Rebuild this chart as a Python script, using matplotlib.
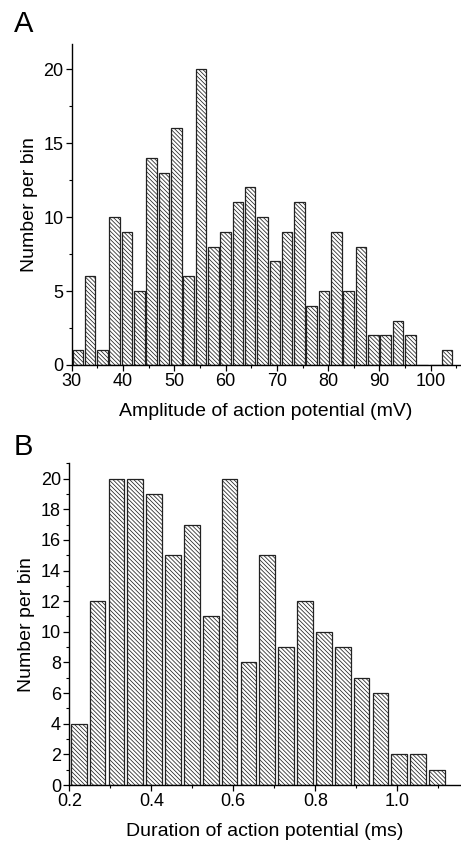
import matplotlib
matplotlib.use("Agg")
import matplotlib.pyplot as plt
import numpy as np
from matplotlib.ticker import MultipleLocator

plt.rcParams['font.family'] = ['Liberation Sans', 'DejaVu Sans']
plt.rcParams['hatch.linewidth'] = 0.55
plt.rcParams['hatch.color'] = '#2a2a2a'

# Panel A: amplitude histogram
amp_start = 30.0
amp_binwidth = 2.4
amp_counts = [1, 6, 1, 10, 9, 5, 14, 13, 16, 6, 20, 8, 9, 11, 12, 10, 7, 9, 11,
              4, 5, 9, 5, 8, 2, 2, 3, 2, 0, 0, 1]
amp_xticks = [30, 40, 50, 60, 70, 80, 90, 100]
amp_yticks = [0, 5, 10, 15, 20]

# Panel B: duration histogram
dur_start = 0.2
dur_binwidth = 0.046
dur_counts = [4, 12, 20, 20, 19, 15, 17, 11, 20, 8, 15, 9, 12, 10, 9, 7, 6, 2, 2, 1]
dur_xticks = [0.2, 0.4, 0.6, 0.8, 1.0]
dur_yticks = [0, 2, 4, 6, 8, 10, 12, 14, 16, 18, 20]

W, H = 461, 841
fig = plt.figure(figsize=(W / 100, H / 100), dpi=100)

def style(ax):
    for s in ['top', 'right']:
        ax.spines[s].set_visible(False)
    ax.spines['left'].set_linewidth(1.0)
    ax.spines['bottom'].set_linewidth(1.0)
    ax.tick_params(which='major', direction='out', length=4, width=0.9,
                   labelsize=13, pad=2)
    ax.tick_params(which='minor', direction='out', length=2.5, width=0.8)

HATCH = '\\' * 8

# ---- Panel A
axA = fig.add_axes([71.7 / W, 1 - 365 / H, (460 - 71.7) / W, (365 - 44) / H])
nA = len(amp_counts)
edgesA = amp_start + amp_binwidth * np.arange(nA)
axA.bar(edgesA + amp_binwidth / 2, amp_counts, width=amp_binwidth * 0.86,
        facecolor='white', edgecolor='#222222', linewidth=0.9,
        hatch=HATCH, zorder=2)
axA.set_xlim(30, 105.7)
axA.set_ylim(0, 21.7)
axA.set_xticks(amp_xticks)
axA.set_yticks(amp_yticks)
axA.xaxis.set_minor_locator(MultipleLocator(5))
axA.yaxis.set_minor_locator(MultipleLocator(2.5))
style(axA)
axA.set_xlabel('Amplitude of action potential (mV)', fontsize=14, labelpad=9)
axA.set_ylabel('Number per bin', fontsize=14, labelpad=4)

# ---- Panel B
axB = fig.add_axes([69.3 / W, 1 - 785 / H, (460 - 69.3) / W, (785 - 463.3) / H])
nB = len(dur_counts)
edgesB = dur_start + dur_binwidth * np.arange(nB)
axB.bar(edgesB + dur_binwidth / 2, dur_counts, width=dur_binwidth * 0.83,
        facecolor='white', edgecolor='#222222', linewidth=0.9,
        hatch=HATCH, zorder=2)
axB.set_xlim(0.2, 1.153)
axB.set_ylim(0, 21.0)
axB.set_xticks(dur_xticks)
axB.set_xticklabels(['0.2', '0.4', '0.6', '0.8', '1.0'])
axB.set_yticks(dur_yticks)
axB.xaxis.set_minor_locator(MultipleLocator(0.1))
axB.yaxis.set_minor_locator(MultipleLocator(1))
style(axB)
axB.set_xlabel('Duration of action potential (ms)', fontsize=14, labelpad=9)
axB.set_ylabel('Number per bin', fontsize=14, labelpad=4)

fig.text(14 / W, 1 - 24 / H, 'A', fontsize=21, va='center', ha='left')
fig.text(14 / W, 1 - 447 / H, 'B', fontsize=21, va='center', ha='left')

fig.savefig('out.png', dpi=100)
